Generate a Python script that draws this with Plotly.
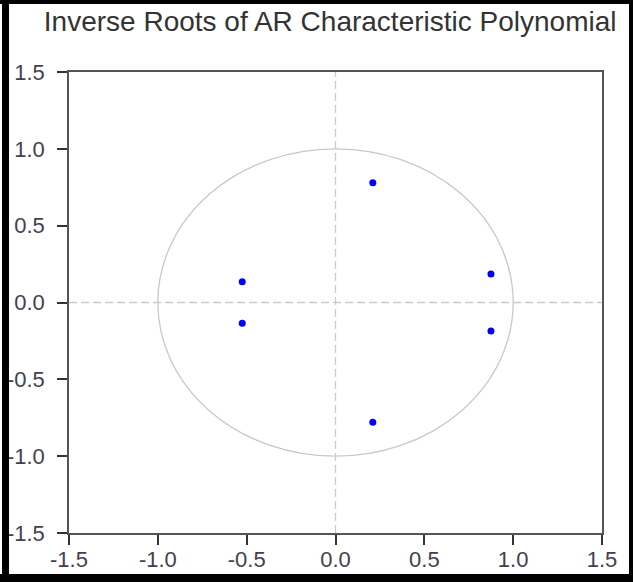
import plotly.graph_objects as go

# Inverse roots (real, imaginary parts)
root_re = [0.21, 0.21, 0.875, 0.875, -0.525, -0.525]
root_im = [0.78, -0.78, 0.185, -0.185, 0.135, -0.135]
tick_vals = [-1.5, -1.0, -0.5, 0.0, 0.5, 1.0, 1.5]
tick_text = ["-1.5", "-1.0", "-0.5", "0.0", "0.5", "1.0", "1.5"]
title_text = "Inverse Roots of AR Characteristic Polynomial"

W, H = 633, 582
L, R, T, B = 69, 31, 72, 49
PW, PH = W - L - R, H - T - B

def xp(px):
    return (px - L) / PW

def yp(py):
    return (H - B - py) / PH

fig = go.Figure()
fig.add_trace(go.Scatter(
    x=root_re, y=root_im, mode="markers",
    marker=dict(color="#0000ff", size=7, line=dict(width=0)),
    showlegend=False, hoverinfo="x+y",
))

shapes = [
    # unit circle
    dict(type="circle", xref="x", yref="y", x0=-1, x1=1, y0=-1, y1=1,
         line=dict(color="#c8c8c8", width=1.3), layer="below"),
    # dashed zero lines
    dict(type="line", xref="x", yref="y", x0=-1.5, x1=1.5, y0=0, y1=0,
         line=dict(color="#cccccc", width=1.3, dash="8px,4px"), layer="below"),
    dict(type="line", xref="x", yref="y", x0=0, x1=0, y0=-1.5, y1=1.5,
         line=dict(color="#cccccc", width=1.3, dash="8px,4px"), layer="below"),
]
# black frame around image
for (x0, x1, y0, y1) in [(2, 9, 0, 582), (0, 633, 0, 4), (629, 633, 0, 582), (0, 633, 574, 582)]:
    shapes.append(dict(type="rect", xref="paper", yref="paper",
                       x0=xp(x0), x1=xp(x1), y0=yp(y1), y1=yp(y0),
                       fillcolor="black", line=dict(width=0), layer="above"))

axis_common = dict(
    range=[-1.5, 1.5], tickvals=tick_vals, ticktext=tick_text,
    showgrid=False, zeroline=False, automargin=False,
    showline=True, linecolor="#555555", linewidth=1.5, mirror=True,
    ticks="outside", ticklen=10, tickwidth=1.5, tickcolor="#333333",
    tickfont=dict(family="Arial, Liberation Sans", size=22, color="#45404f"),
    fixedrange=True,
)

fig.update_layout(
    width=W, height=H,
    margin=dict(l=L, r=R, t=T, b=B, autoexpand=False),
    paper_bgcolor="white", plot_bgcolor="white",
    title=dict(text=title_text, x=0.49, xref="paper", xanchor="center",
               y=1 - 21 / H, yref="container", yanchor="middle",
               font=dict(family="Arial, Liberation Sans", size=28, color="#333333")),
    xaxis=dict(**axis_common, ticklabelstandoff=-4),
    yaxis=dict(**axis_common, ticklabelstandoff=8),
    shapes=shapes,
)

fig.write_html("out.html")
